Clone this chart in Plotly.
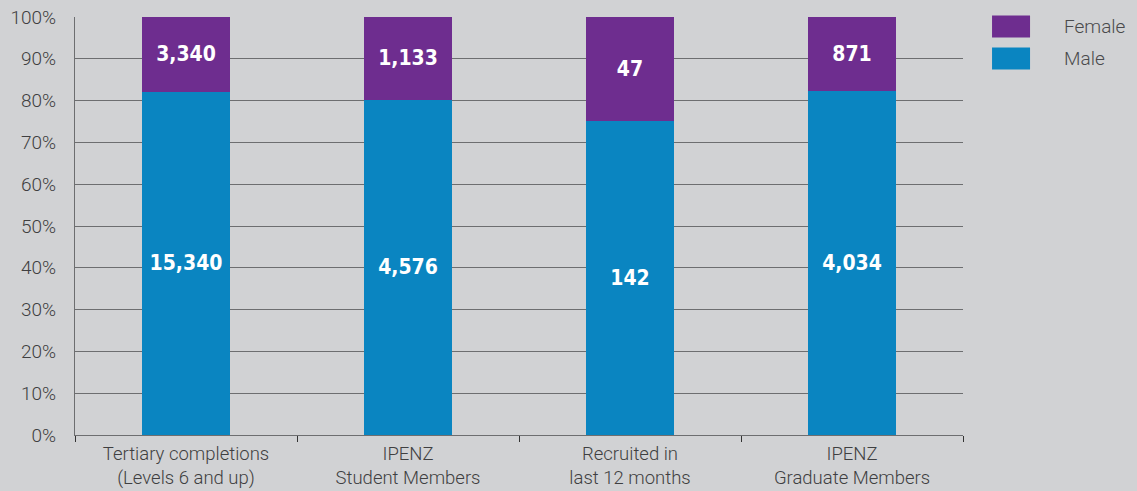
import plotly.graph_objects as go

# Data
categories = ["Tertiary completions<br>(Levels 6 and up)", "IPENZ<br>Student Members",
              "Recruited in<br>last 12 months", "IPENZ<br>Graduate Members"]
male = [15340, 4576, 142, 4034]
female = [3340, 1133, 47, 871]
series_names = ["Male", "Female"]
colors = {"Male": "#0a85c1", "Female": "#6e2d8f"}

bar_font = dict(family="DejaVu Sans Condensed, Liberation Sans Narrow, Arial Narrow", size=21,
                color="white", weight="bold")

fig = go.Figure()
for name, vals in zip(series_names, [male, female]):
    fig.add_trace(go.Bar(
        x=categories, y=vals, name=name,
        marker=dict(color=colors[name], line=dict(width=0)),
        width=0.4,
        text=[f"{v:,}" for v in vals], texttemplate="%{text}",
        textposition="inside", insidetextanchor="middle",
        textfont=bar_font, textangle=0,
        showlegend=False,
    ))

# Legend drawn as swatches + labels (bigger swatches than plotly's legend)
legend_items = [("Female", 1.0036, 0.951), ("Male", 0.927, 0.8746)]
for name, y0, y1 in legend_items:
    fig.add_shape(type="rect", xref="paper", yref="paper", x0=1.0327, x1=1.0755,
                  y0=y1, y1=y0, fillcolor=colors[name], line=dict(width=0))
    fig.add_annotation(xref="paper", yref="paper", x=1.111, y=(y0 + y1) / 2,
                       text=name, showarrow=False, xanchor="left", yanchor="middle",
                       font=dict(family="Roboto", size=19, color="#4a4a4c", weight=300))

fig.update_layout(
    barmode="stack", barnorm="percent",
    width=1137, height=491,
    margin=dict(l=75, r=174, t=17, b=56),
    paper_bgcolor="#d1d2d4", plot_bgcolor="#d1d2d4",
    font=dict(family="Roboto", size=18.5, color="#3f3f41", weight=300),
    uniformtext=dict(mode=False),
)
fig.update_yaxes(range=[0, 100], dtick=10, ticksuffix="%", showgrid=True,
                 gridcolor="#6d6e70", gridwidth=1.3, showline=True, linecolor="#6d6e70",
                 linewidth=1.3, zeroline=False, ticks="", ticklen=0, layer="below traces",
                 tickfont=dict(size=19), ticklabelstandoff=14, automargin=False)
fig.update_xaxes(showline=True, linecolor="#6d6e70", linewidth=1.3, ticks="outside",
                 tickson="boundaries", ticklen=6, tickcolor="#333", tickwidth=1.3,
                 showgrid=False, automargin=False, ticklabelstandoff=2)

# drop the default body margin so the figure fills the window exactly
fig.write_html("out.html", config={"displayModeBar": False},
               post_script="document.body.style.margin='0';"
               "document.body.style.background='#d1d2d4';")
